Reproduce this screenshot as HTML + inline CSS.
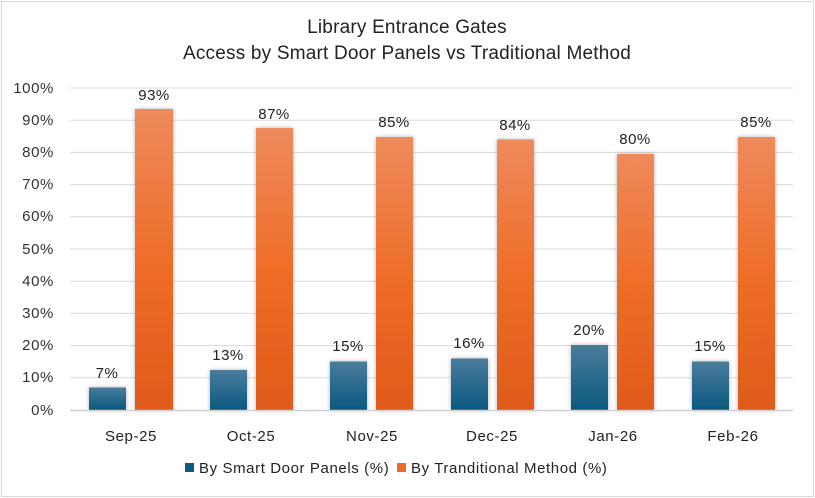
<!DOCTYPE html>
<html><head><meta charset="utf-8"><style>
body{margin:0;background:#fff}
svg{display:block;font-family:"Liberation Sans",sans-serif}
</style></head><body>
<svg width="815" height="498" xmlns="http://www.w3.org/2000/svg">
<defs>
<linearGradient id="b" x1="0" y1="0" x2="0" y2="1"><stop offset="0" stop-color="#4a7c9c"/><stop offset="1" stop-color="#0b5880"/></linearGradient>
<linearGradient id="o" x1="0" y1="0" x2="0" y2="1"><stop offset="0" stop-color="#ee8a5c"/><stop offset="0.5" stop-color="#ee6e28"/><stop offset="1" stop-color="#df5a1a"/></linearGradient>
<filter id="s" x="-30%" y="-10%" width="160%" height="120%"><feDropShadow dx="0" dy="0" stdDeviation="2" flood-color="#000" flood-opacity="0.3"/></filter>
</defs>
<rect x="1.5" y="1.5" width="812" height="495" fill="#fff" stroke="#d9d9d9"/>
<g font-size="19" text-anchor="middle" fill="#222" letter-spacing="0.2">
<text x="407" y="33">Library Entrance Gates</text>
<text x="407" y="59">Access by Smart Door Panels vs Traditional Method</text>
</g>
<g stroke="#d9d9d9" stroke-width="1">
<line x1="70" x2="793" y1="88" y2="88"/><line x1="70" x2="793" y1="120.2" y2="120.2"/><line x1="70" x2="793" y1="152.4" y2="152.4"/><line x1="70" x2="793" y1="184.6" y2="184.6"/><line x1="70" x2="793" y1="216.8" y2="216.8"/><line x1="70" x2="793" y1="249" y2="249"/><line x1="70" x2="793" y1="281.2" y2="281.2"/><line x1="70" x2="793" y1="313.4" y2="313.4"/><line x1="70" x2="793" y1="345.6" y2="345.6"/><line x1="70" x2="793" y1="377.8" y2="377.8"/>
</g>
<g font-size="15" fill="#333" text-anchor="end" letter-spacing="0.6">
<text x="54" y="93">100%</text><text x="54" y="125">90%</text><text x="54" y="157">80%</text><text x="54" y="189">70%</text><text x="54" y="221">60%</text><text x="54" y="254">50%</text><text x="54" y="286">40%</text><text x="54" y="318">30%</text><text x="54" y="350">20%</text><text x="54" y="382">10%</text><text x="54" y="415">0%</text>
</g>
<g filter="url(#s)">
<rect x="89" y="387.5" width="37" height="22.5" fill="url(#b)"/><rect x="135" y="109" width="38" height="301" fill="url(#o)"/>
<rect x="210" y="370" width="37" height="40" fill="url(#b)"/><rect x="256" y="128" width="37" height="282" fill="url(#o)"/>
<rect x="330" y="361.5" width="37" height="48.5" fill="url(#b)"/><rect x="376" y="137" width="37" height="273" fill="url(#o)"/>
<rect x="451" y="358.5" width="37" height="51.5" fill="url(#b)"/><rect x="497" y="139.5" width="37" height="270.5" fill="url(#o)"/>
<rect x="571" y="345" width="37" height="65" fill="url(#b)"/><rect x="617" y="154" width="37" height="256" fill="url(#o)"/>
<rect x="692" y="361.5" width="37" height="48.5" fill="url(#b)"/><rect x="738" y="137" width="37" height="273" fill="url(#o)"/>
</g>
<line x1="70" x2="793" y1="410.5" y2="410.5" stroke="#d0d0d0" stroke-width="1.5"/>
<g font-size="15" fill="#222" text-anchor="middle" letter-spacing="0.5">
<text x="107" y="378">7%</text><text x="154" y="100">93%</text>
<text x="228" y="360">13%</text><text x="274" y="119">87%</text>
<text x="348" y="351">15%</text><text x="394" y="127">85%</text>
<text x="469" y="348">16%</text><text x="515" y="130">84%</text>
<text x="589" y="335">20%</text><text x="635" y="144">80%</text>
<text x="710" y="351">15%</text><text x="756" y="127">85%</text>
</g>
<g font-size="15" fill="#222" text-anchor="middle" letter-spacing="0.6">
<text x="131" y="441">Sep-25</text><text x="251" y="441">Oct-25</text><text x="372" y="441">Nov-25</text><text x="492" y="441">Dec-25</text><text x="613" y="441">Jan-26</text><text x="733" y="441">Feb-26</text>
</g>
<rect x="185" y="463" width="9" height="9" fill="#0e5a80"/>
<text x="199" y="473" font-size="15" fill="#222" letter-spacing="0.6">By Smart Door Panels (%)</text>
<rect x="397" y="463" width="9" height="9" fill="#ec6a25"/>
<text x="411" y="473" font-size="15" fill="#222" letter-spacing="0.6">By Tranditional Method (%)</text>
</svg>
</body></html>
